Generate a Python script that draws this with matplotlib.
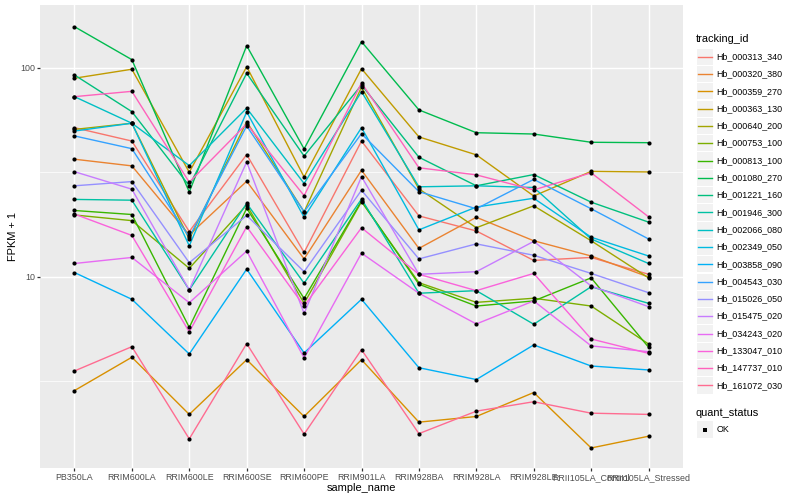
import numpy as np
import matplotlib
matplotlib.use("Agg")
import matplotlib.pyplot as plt
from matplotlib.patches import Rectangle
from matplotlib.lines import Line2D

plt.rcParams['font.family'] = ['Liberation Sans', 'DejaVu Sans']

samples = ["PB350LA", "RRIM600LA", "RRIM600LE", "RRIM600SE", "RRIM600PE",
           "RRIM901LA", "RRIM928BA", "RRIM928LA", "RRIM928LE",
           "RRII105LA_Control", "RRII105LA_Stressed"]

tracking_ids = ["Hb_000313_340", "Hb_000320_380", "Hb_000359_270", "Hb_000363_130",
                "Hb_000640_200", "Hb_000753_100", "Hb_000813_100", "Hb_001080_270",
                "Hb_001221_160", "Hb_001946_300", "Hb_002066_080", "Hb_002349_050",
                "Hb_003858_090", "Hb_004543_030", "Hb_015026_050", "Hb_015475_020",
                "Hb_034243_020", "Hb_133047_010", "Hb_147737_010", "Hb_161072_030"]

colors = ["#F8766D", "#EA8331", "#D89000", "#C09B00", "#A3A500", "#7CAE00", "#39B600",
          "#00BB4E", "#00BF7D", "#00C1A3", "#00BFC4", "#00BAE0", "#00B0F6", "#35A2FF",
          "#9590FF", "#C77CFF", "#E76BF3", "#FA62DB", "#FF62BC", "#FF6C91"]

# FPKM + 1 per sample (order of `samples`)
hb_000313_340 = [51.8, 44.7, 16.5, 38.5, 13.1, 44.7, 19.6, 16.6, 12.0, 12.4, 10.3]
hb_000320_380 = [36.6, 34.0, 15.9, 28.7, 12.2, 32.4, 13.7, 19.3, 14.9, 12.6, 10.0]
hb_000359_270 = [2.86, 4.13, 2.20, 4.02, 2.15, 4.02, 2.02, 2.15, 2.80, 1.52, 1.73]
hb_000363_130 = [89.3, 98.6, 31.7, 101.4, 30.1, 99.2, 46.8, 38.4, 24.4, 32.0, 31.8]
hb_000640_200 = [50.8, 54.4, 15.2, 55.3, 20.5, 80.9, 26.4, 17.2, 21.9, 14.9, 9.9]
hb_000753_100 = [19.8, 18.6, 11.0, 22.1, 7.48, 22.9, 9.39, 7.56, 7.91, 7.26, 4.78]
hb_000813_100 = [20.8, 19.9, 5.74, 21.3, 7.89, 23.1, 9.23, 7.26, 7.68, 9.9, 4.61]
hb_001080_270 = [157.6, 109.6, 25.5, 127.8, 41.0, 133.6, 63.0, 49.0, 48.3, 44.1, 43.9]
hb_001221_160 = [92.6, 61.8, 27.3, 94.3, 37.9, 82.9, 37.4, 27.3, 30.9, 22.8, 18.3]
hb_001946_300 = [23.5, 23.3, 8.67, 22.5, 9.33, 23.6, 8.36, 8.6, 5.94, 8.98, 7.48]
hb_002066_080 = [72.9, 54.4, 34.1, 64.2, 28.0, 77.0, 27.0, 27.3, 26.8, 15.2, 11.6]
hb_002349_050 = [49.9, 54.4, 14.1, 61.6, 19.3, 51.8, 16.8, 21.6, 23.8, 15.5, 12.6]
hb_003858_090 = [10.5, 7.82, 4.28, 10.9, 4.33, 7.82, 3.68, 3.23, 4.73, 3.75, 3.59]
hb_004543_030 = [47.3, 41.1, 15.5, 52.8, 20.5, 48.5, 25.6, 21.2, 29.3, 21.2, 15.2]
hb_015026_050 = [27.3, 28.6, 11.7, 19.7, 10.6, 26.0, 12.2, 14.4, 12.7, 10.4, 8.41]
hb_015475_020 = [31.9, 26.3, 8.67, 35.5, 6.69, 30.2, 10.3, 10.6, 14.8, 9.06, 7.21]
hb_034243_020 = [11.6, 12.4, 7.53, 13.3, 4.1, 13.0, 8.36, 5.96, 7.68, 4.68, 4.39]
hb_133047_010 = [20.0, 15.8, 5.46, 17.4, 7.26, 17.2, 10.3, 8.6, 10.4, 5.05, 4.31]
hb_147737_010 = [72.9, 77.3, 28.4, 54.0, 24.5, 84.8, 33.3, 30.8, 26.1, 31.5, 19.4]
hb_161072_030 = [3.55, 4.64, 1.68, 4.80, 1.77, 4.49, 1.78, 2.28, 2.53, 2.23, 2.20]

series = [hb_000313_340, hb_000320_380, hb_000359_270, hb_000363_130, hb_000640_200,
          hb_000753_100, hb_000813_100, hb_001080_270, hb_001221_160, hb_001946_300,
          hb_002066_080, hb_002349_050, hb_003858_090, hb_004543_030, hb_015026_050,
          hb_015475_020, hb_034243_020, hb_133047_010, hb_147737_010, hb_161072_030]

W, H = 800, 500
fig = plt.figure(figsize=(8, 5), dpi=100)
fig.patch.set_facecolor('white')

# panel in pixels: x 40..683, y 5..468
px0, px1, py0, py1 = 40, 683, 5, 468
ax = fig.add_axes([px0 / W, 1 - py1 / H, (px1 - px0) / W, (py1 - py0) / H])
ax.set_facecolor('#EBEBEB')
for s in ax.spines.values():
    s.set_visible(False)

x = np.arange(1, len(samples) + 1)
for vals, c in zip(series, colors):
    ax.plot(x, vals, color=c, lw=1.0, solid_capstyle='butt', zorder=3)
for vals in series:
    ax.plot(x, vals, linestyle='none', marker='o', ms=3.0, mfc='black', mec='black',
            mew=0, zorder=4)

ax.set_yscale('log')
ax.set_xlim(0.4, len(samples) + 0.6)
ax.set_ylim(1.219, 200.1)
ax.set_yticks([10, 100])
ax.set_yticklabels(["10", "100"])
ax.set_yticks([10 ** 0.5, 10 ** 1.5], minor=True)
ax.yaxis.set_minor_formatter(matplotlib.ticker.NullFormatter())
ax.set_xticks(x)
ax.set_xticklabels(samples)
ax.set_axisbelow(True)
ax.grid(which='major', axis='both', color='white', lw=1.02)
ax.grid(which='minor', axis='y', color='white', lw=0.51)
ax.tick_params(which='major', length=2.0, width=0.9, color='#333333',
               labelsize=6.4, labelcolor='#4D4D4D', pad=1.6)
ax.tick_params(which='minor', length=0)

fig.text((px0 + px1) / 2 / W, 1 - 488 / H, "sample_name", ha='center', va='center',
         fontsize=7.9, color='black')
fig.text(13 / W, 1 - (py0 + py1) / 2 / H, "FPKM + 1", ha='center', va='center',
         rotation=90, fontsize=7.9, color='black')

# legend: tracking_id
def fx(p):
    return p / W

def fy(p):
    return 1 - p / H

fig.text(fx(696), fy(39.5), "tracking_id", ha='left', va='center', fontsize=7.9)
step = 17.3
y0 = 56.7
for i, (tid, c) in enumerate(zip(tracking_ids, colors)):
    yc = y0 + i * step
    fig.patches.append(Rectangle((fx(696.7), fy(yc + 8.1)), 16.6 / W, 16.2 / H,
                                 transform=fig.transFigure, facecolor='#F2F2F2',
                                 edgecolor='none'))
    fig.lines.append(Line2D([fx(698.4), fx(711.6)], [fy(yc), fy(yc)],
                            transform=fig.transFigure, color=c, lw=1.0))
    fig.text(fx(716.5), fy(yc), tid, ha='left', va='center', fontsize=6.4)

fig.text(fx(696), fy(412.5), "quant_status", ha='left', va='center', fontsize=7.9)
yc = 429.5
fig.patches.append(Rectangle((fx(696.7), fy(yc + 8.1)), 16.6 / W, 16.2 / H,
                             transform=fig.transFigure, facecolor='#F2F2F2',
                             edgecolor='none'))
fig.lines.append(Line2D([fx(705)], [fy(yc)], transform=fig.transFigure,
                        linestyle='none', marker='s', ms=2.6, mfc='black',
                        mec='black', mew=0))
fig.text(fx(716.5), fy(yc), "OK", ha='left', va='center', fontsize=6.4)

fig.savefig("out.png", dpi=100)
